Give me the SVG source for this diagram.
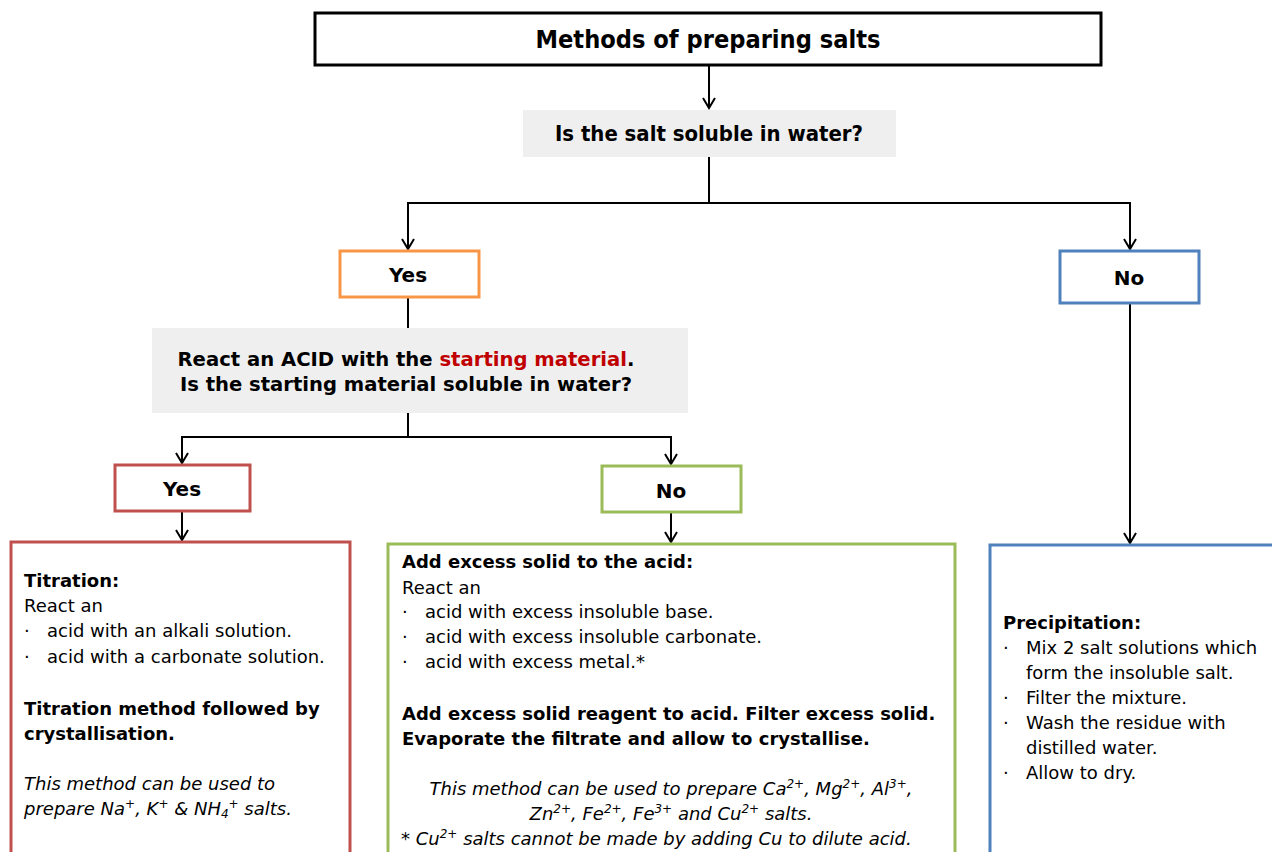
<svg xmlns="http://www.w3.org/2000/svg" width="1272" height="852" viewBox="0 0 1272 852">
<defs>
<marker id="arr" markerWidth="14" markerHeight="16" refX="12" refY="8" orient="auto" markerUnits="userSpaceOnUse" viewBox="0 0 14 16">
<path d="M2,2 L12,8 L2,14" fill="none" stroke="#000" stroke-width="2"/>
</marker>
<style>
text{font-family:"DejaVu Sans",Verdana,sans-serif;fill:#000}
.t{font-size:18px}
.b{font-weight:bold}
.i{font-style:italic}
.c{text-anchor:middle}
.h{font-size:19px;font-weight:bold;text-anchor:middle}
.yn{font-size:20px;font-weight:bold;text-anchor:middle}
.cond{font-family:"DejaVu Sans Condensed","DejaVu Sans",sans-serif;font-weight:bold;text-anchor:middle}
.grey{fill:#efefef}
.line{fill:none;stroke:#000;stroke-width:2}
.sup{font-size:12px}
</style>
</defs>
<rect width="1272" height="852" fill="#fff"/>

<g id="connectors">
<path class="line" d="M709,66 V108" marker-end="url(#arr)"/>
<path class="line" d="M709,157 V203 H408 V249" marker-end="url(#arr)"/>
<path class="line" d="M709,203 H1130 V249" marker-end="url(#arr)"/>
<path class="line" d="M408,297 V328"/>
<path class="line" d="M408,413 V437 H182 V463" marker-end="url(#arr)"/>
<path class="line" d="M408,437 H671 V464" marker-end="url(#arr)"/>
<path class="line" d="M182,511 V540" marker-end="url(#arr)"/>
<path class="line" d="M671,512 V542" marker-end="url(#arr)"/>
<path class="line" d="M1130,303 V543" marker-end="url(#arr)"/>
</g>

<g id="title">
<rect x="315" y="13" width="786" height="52" fill="#fff" stroke="#000" stroke-width="3"/>
<text x="708" y="48" font-size="24" class="cond" textLength="345" lengthAdjust="spacingAndGlyphs">Methods of preparing salts</text>
</g>

<g id="q1">
<rect x="523" y="110" width="373" height="47" class="grey"/>
<text x="709" y="141" font-size="21" class="cond" textLength="308" lengthAdjust="spacingAndGlyphs">Is the salt soluble in water?</text>
</g>

<g id="yes1">
<rect x="340" y="251" width="139" height="46" fill="#fff" stroke="#f79646" stroke-width="3"/>
<text x="408" y="282" class="yn">Yes</text>
</g>

<g id="no1">
<rect x="1060" y="251" width="139" height="52" fill="#fff" stroke="#4f81bd" stroke-width="3"/>
<text x="1129" y="285" class="yn">No</text>
</g>

<g id="q2">
<rect x="152" y="328" width="536" height="85" class="grey"/>
<text x="406" y="366" class="h" textLength="457" lengthAdjust="spacingAndGlyphs">React an ACID with the <tspan style="fill:#c00000">starting material</tspan>.</text>
<text x="406" y="391" class="h" textLength="452" lengthAdjust="spacingAndGlyphs">Is the starting material soluble in water?</text>
</g>

<g id="yes2">
<rect x="115" y="465" width="135" height="46" fill="#fff" stroke="#c0504d" stroke-width="3"/>
<text x="182" y="496" class="yn">Yes</text>
</g>

<g id="no2">
<rect x="602" y="466" width="139" height="46" fill="#fff" stroke="#9bbb59" stroke-width="3"/>
<text x="671" y="498" class="yn">No</text>
</g>

<g id="titration">
<rect x="11" y="542" width="339" height="320" fill="#fff" stroke="#c0504d" stroke-width="3"/>
<text x="24" y="587" class="t b">Titration:</text>
<text x="24" y="612" class="t">React an</text>
<text x="24" y="637" class="t">·</text><text x="47" y="637" class="t">acid with an alkali solution.</text>
<text x="24" y="663" class="t">·</text><text x="47" y="663" class="t">acid with a carbonate solution.</text>
<text x="24" y="715" class="t b">Titration method followed by</text>
<text x="24" y="740" class="t b">crystallisation.</text>
<text x="24" y="790" class="t i">This method can be used to</text>
<text x="24" y="815" class="t i">prepare Na<tspan class="sup" dy="-7">+</tspan><tspan dy="7">, K</tspan><tspan class="sup" dy="-7">+</tspan><tspan dy="7"> &amp; NH</tspan><tspan class="sup" dy="3">4</tspan><tspan class="sup" dy="-10">+</tspan><tspan dy="7"> salts.</tspan></text>
</g>

<g id="excess">
<rect x="388" y="544" width="567" height="320" fill="#fff" stroke="#9bbb59" stroke-width="3"/>
<text x="402" y="568" class="t b">Add excess solid to the acid:</text>
<text x="402" y="594" class="t">React an</text>
<text x="402" y="618" class="t">·</text><text x="425" y="618" class="t">acid with excess insoluble base.</text>
<text x="402" y="643" class="t">·</text><text x="425" y="643" class="t">acid with excess insoluble carbonate.</text>
<text x="402" y="668" class="t">·</text><text x="425" y="668" class="t">acid with excess metal.*</text>
<text x="402" y="720" class="t b">Add excess solid reagent to acid. Filter excess solid.</text>
<text x="402" y="745" class="t b">Evaporate the filtrate and allow to crystallise.</text>
<text x="671" y="795" class="t i c">This method can be used to prepare Ca<tspan class="sup" dy="-7">2+</tspan><tspan dy="7">, Mg</tspan><tspan class="sup" dy="-7">2+</tspan><tspan dy="7">, Al</tspan><tspan class="sup" dy="-7">3+</tspan><tspan dy="7">,</tspan></text>
<text x="671" y="820" class="t i c">Zn<tspan class="sup" dy="-7">2+</tspan><tspan dy="7">, Fe</tspan><tspan class="sup" dy="-7">2+</tspan><tspan dy="7">, Fe</tspan><tspan class="sup" dy="-7">3+</tspan><tspan dy="7"> and Cu</tspan><tspan class="sup" dy="-7">2+</tspan><tspan dy="7"> salts.</tspan></text>
<text x="401" y="845" class="t i">* Cu<tspan class="sup" dy="-7">2+</tspan><tspan dy="7"> salts cannot be made by adding Cu to dilute acid.</tspan></text>
</g>

<g id="precipitation">
<rect x="990" y="545" width="300" height="320" fill="#fff" stroke="#4f81bd" stroke-width="3"/>
<text x="1003" y="629" class="t b">Precipitation:</text>
<text x="1003" y="654" class="t">·</text><text x="1026" y="654" class="t">Mix 2 salt solutions which</text>
<text x="1026" y="679" class="t">form the insoluble salt.</text>
<text x="1003" y="704" class="t">·</text><text x="1026" y="704" class="t">Filter the mixture.</text>
<text x="1003" y="729" class="t">·</text><text x="1026" y="729" class="t">Wash the residue with</text>
<text x="1026" y="754" class="t">distilled water.</text>
<text x="1003" y="779" class="t">·</text><text x="1026" y="779" class="t">Allow to dry.</text>
</g>
</svg>
